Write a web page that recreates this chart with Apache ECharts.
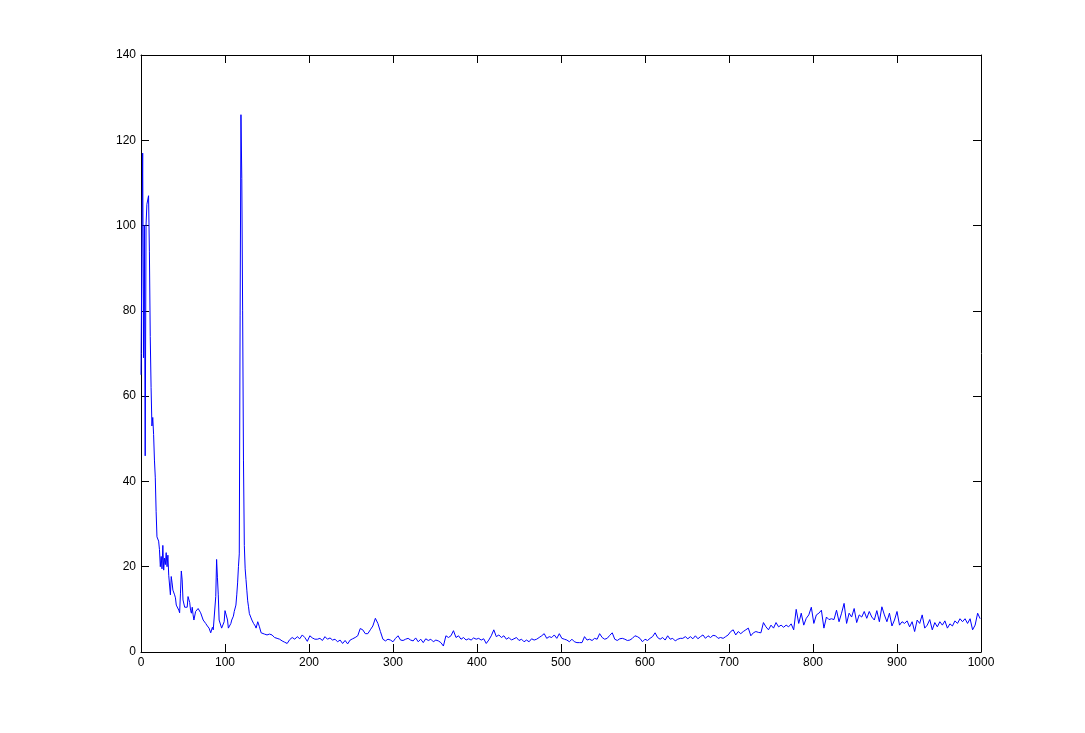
<!DOCTYPE html>
<html>
<head>
<meta charset="utf-8">
<script src="https://cdn.jsdelivr.net/npm/echarts@6/dist/echarts.min.js"></script>
<style>html,body{margin:0;padding:0;background:#fff;}#c{width:1085px;height:733px;}</style>
</head>
<body>
<div id="c"></div>
<script>
// Low-frequency part, read point by point
const headX = [0,1,2,3,4,5,6,7,8,9,10,11,12,13,14,15,16,17,18,19,21,22,23,24,25,26,27,28,29,30,31,32,33,35,36,37,38,40,41,42,44,45,46,47,48,49,50,52,54,55,56,58,59,60,61,62,63,65,66,68,69,71,72,74,75,77,79,81,83,85,86,88,89,90,91,92,93,94,95,96,97,99,100,102,103,104,105,107,108,110,111,113,114,115,116,117,118,119,120,121,122,123,124,125,126,127,128,129,130,131,132,133,134,135,136,137,139,141,143,145,147];
const headY = [65,93,117,69,100,46,100,105,106,107,94,74,62,53,55,51,45,41,33,27,26,24,20,22.4,19.5,25,19.2,22,20.5,23.3,20,22.7,18,13.4,17.7,16.2,14.5,13.4,12.7,11,10.6,9.8,9.2,13.8,19,16.9,12.2,10.5,10.6,10.5,13,11.6,9.8,9.1,10.5,8.7,7.5,9.5,9.8,10.2,9.8,9.2,9.1,7.5,7.1,6.7,6.1,5.6,4.5,5.8,5.2,5.2,13,21.7,17.4,13.4,7.5,7.9,7.1,5.6,6.1,7.1,9.7,9.8,7.5,5.6,5.8,6.7,7.5,8.4,9.5,11,13.4,16.2,20,23,79,126,111,80,45,25,19.5,17,14.5,12,10.6,9,8.7,8,7.5,7.1,6.7,6.3,6.1,5.6,7.1,5.9,4.5,4.2,4.2];
// Tail part: samples starting at x = 150, one every 3 units
const tailStart = 150;
const tailStep = 3;
const tailY = [
4.0,4.2,4.0,3.4,3.2,3.0,2.6,2.3,2.0,2.9,3.4,3.0,3.6,3.1,4.0,3.4,2.5,3.8,3.3,3.0,3.0,3.2,2.7,3.6,3.0,3.3,
2.8,3.0,2.4,2.8,2.0,2.7,1.9,2.8,3.1,3.4,3.8,5.5,5.2,4.3,4.3,5.2,6.1,7.9,6.7,4.8,3.0,2.6,3.0,2.8,
2.4,3.2,3.8,2.8,2.7,3.0,3.2,2.8,2.6,3.3,2.4,3.0,2.2,3.1,2.7,3.0,2.4,2.8,2.6,2.2,
1.4,3.8,3.4,3.8,5.0,3.4,3.8,3.0,3.4,2.8,3.1,2.8,3.3,3.0,3.2,2.8,3.1,2.0,2.8,3.8,
5.2,3.6,4.0,3.4,3.8,3.0,3.4,2.8,3.1,3.4,2.7,3.0,2.4,2.8,2.4,3.1,2.8,3.0,3.4,3.8,
4.3,3.2,3.6,3.4,4.0,3.2,4.3,3.2,3.0,2.8,2.4,3.0,2.4,2.2,2.2,2.2,3.6,2.8,3.0,2.7,
3.2,3.0,4.3,3.4,3.0,3.2,3.9,4.5,3.0,2.7,3.1,3.2,3.0,2.7,2.8,3.2,3.8,3.6,
3.2,2.4,3.0,2.7,3.2,3.6,4.5,3.4,3.0,3.4,2.8,3.8,3.0,3.2,2.6,3.0,3.2,3.2,3.6,3.1,
3.6,3.1,3.8,3.1,3.6,4.0,3.2,3.8,3.4,3.9,3.8,3.2,3.4,3.2,3.6,4.0,4.8,5.2,4.0,4.8,
4.3,4.8,5.2,5.6,3.8,4.5,4.8,4.6,4.5,6.9,5.9,5.2,6.3,5.6,6.9,5.9,6.3,5.8,6.3,5.9,
6.6,5.2,10.0,6.7,9.1,6.3,7.9,8.7,10.5,6.7,8.7,9.1,9.8,5.6,8.2,7.6,7.8,7.6,9.8,7.1,
9.1,11.4,6.7,9.1,8.2,10.2,6.9,8.7,8.2,9.5,7.9,9.5,8.2,7.5,9.7,7.1,10.6,8.7,7.1,9.1,
6.1,7.5,9.5,6.3,7.1,6.7,7.3,5.9,7.1,4.8,7.5,6.7,8.7,5.6,6.3,7.6,5.2,6.9,5.9,7.1,
6.3,7.3,5.6,6.6,6.1,7.3,6.7,7.8,7.1,7.8,6.7,7.8,5.2,6.3,9.1,7.8
];
const xTicks = [0,100,200,300,400,500,600,700,800,900,1000];
const yTicks = [0,20,40,60,80,100,120,140];

const data = [];
for (let i = 0; i < headX.length; i++) data.push([headX[i], headY[i]]);
for (let i = 0; i < tailY.length; i++) data.push([tailStart + i * tailStep, tailY[i]]);

const font = {fontFamily: 'Liberation Sans, Arial, sans-serif', fontSize: 12, color: '#000', formatter: function (v) { return String(v); }};
const axLine = {show: true, onZero: false, lineStyle: {color: '#000', width: 1}};
const tick = {show: true, inside: true, length: 8, lineStyle: {color: '#000', width: 1}};

const chart = echarts.init(document.getElementById('c'), null, {renderer: 'canvas'});
chart.setOption({
  backgroundColor: '#fff',
  animation: false,
  grid: {left: 141, right: 104, top: 55, bottom: 81, containLabel: false},
  xAxis: [
    {type: 'value', min: xTicks[0], max: xTicks[xTicks.length-1], interval: 100, position: 'bottom',
     axisLine: axLine, axisTick: tick, splitLine: {show: false},
     axisLabel: Object.assign({margin: 5}, font)},
    {type: 'value', min: xTicks[0], max: xTicks[xTicks.length-1], interval: 100, position: 'top',
     axisLine: axLine, axisTick: tick, splitLine: {show: false}, axisLabel: {show: false}}
  ],
  yAxis: [
    {type: 'value', min: yTicks[0], max: yTicks[yTicks.length-1], interval: 20, position: 'left',
     axisLine: axLine, axisTick: tick, splitLine: {show: false},
     axisLabel: Object.assign({margin: 5}, font)},
    {type: 'value', min: yTicks[0], max: yTicks[yTicks.length-1], interval: 20, position: 'right',
     axisLine: axLine, axisTick: tick, splitLine: {show: false}, axisLabel: {show: false}}
  ],
  series: [{
    type: 'line', xAxisIndex: 0, yAxisIndex: 0, data: data,
    showSymbol: false, symbol: 'none', smooth: false,
    lineStyle: {color: '#0000ff', width: 1}, itemStyle: {color: '#0000ff'}
  }]
});
</script>
</body>
</html>
